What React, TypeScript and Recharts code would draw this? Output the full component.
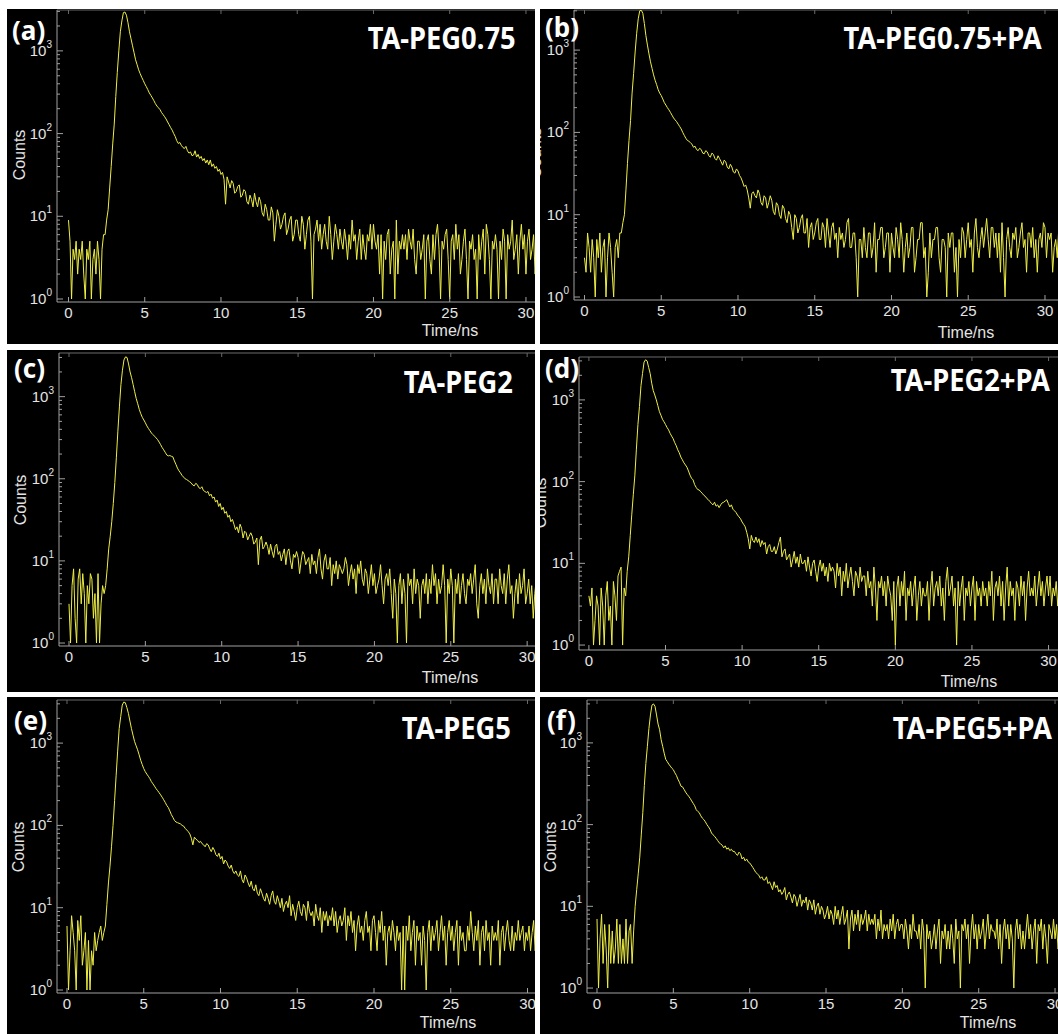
import { LineChart, Line, XAxis, YAxis, ReferenceLine } from "recharts";

const CHANNEL_NS = 0.1;

const timeTicks = [0, 5, 10, 15, 20, 25, 30];
const decadeTicks = [1, 10, 100, 1000];
const minorSteps = [2, 3, 4, 5, 6, 7, 8, 9];

const panelLetters = ["(a)", "(b)", "(c)", "(d)", "(e)", "(f)"];
const sampleNames = [
  "TA-PEG0.75",
  "TA-PEG0.75+PA",
  "TA-PEG2",
  "TA-PEG2+PA",
  "TA-PEG5",
  "TA-PEG5+PA",
];

// counts per channel, one row per ns (0.0 ... 31.0 ns)
const countsPeg075 = [
  9, 5, 1, 4, 3, 5, 2, 4, 3, 5,
  2, 1, 4, 3, 5, 1, 3, 4, 2, 5,
  3, 1, 4, 6, 6, 9, 12, 22, 40, 75,
  130, 280, 550, 1000, 1700, 2300, 2900, 2950, 2700, 2200,
  1700, 1400, 1150, 950, 780, 680, 590, 530, 480, 440,
  400, 370, 340, 310, 290, 270, 250, 230, 215, 205,
  195, 180, 170, 160, 150, 138, 128, 118, 110, 100,
  92, 82, 76, 78, 72, 68, 66, 70, 62, 58,
  60, 54, 55, 62, 52, 56, 50, 53, 47, 50,
  44, 48, 42, 48, 40, 43, 38, 40, 35, 37,
  32, 34, 28, 14, 30, 26, 22, 27, 25, 19,
  20, 23, 24, 17, 18, 21, 20, 15, 14, 18,
  16, 13, 19, 15, 13, 17, 15, 11, 10, 14,
  12, 9, 9, 13, 11, 5, 8, 12, 10, 7,
  8, 10, 11, 6, 7, 9, 10, 5, 6, 9,
  9, 6, 5, 10, 8, 4, 6, 9, 10, 5,
  1, 6, 7, 9, 5, 8, 4, 6, 8, 5,
  4, 10, 6, 3, 5, 8, 6, 4, 7, 5,
  4, 7, 5, 3, 6, 4, 9, 5, 6, 3,
  5, 7, 3, 6, 4, 3, 6, 5, 8, 4,
  8, 5, 4, 6, 2, 6, 1, 5, 3, 6,
  7, 2, 4, 5, 1, 9, 2, 5, 4, 6,
  4, 6, 3, 7, 5, 4, 7, 3, 2, 5,
  5, 3, 4, 6, 1, 5, 6, 3, 2, 6,
  3, 6, 8, 4, 1, 5, 4, 6, 7, 3,
  1, 5, 6, 3, 8, 4, 6, 2, 3, 5,
  7, 3, 1, 5, 4, 6, 3, 4, 1, 6,
  3, 5, 7, 2, 8, 6, 3, 1, 5, 4,
  6, 4, 1, 5, 3, 7, 5, 1, 6, 4,
  5, 9, 3, 4, 6, 2, 5, 8, 4, 6,
  2, 5, 7, 3, 4, 6, 2, 4, 5, 3,
  5,
];

const countsPeg075Pa = [
  3, 2, 6, 4, 2, 5, 3, 1, 5, 3,
  6, 2, 4, 5, 1, 3, 6, 4, 2, 1,
  4, 5, 3, 6, 6, 8, 10, 20, 42, 80,
  140, 300, 520, 950, 1600, 2400, 3000, 3050, 2800, 2100,
  1500, 1150, 900, 720, 600, 500, 430, 380, 330, 300,
  280, 255, 230, 215, 200, 188, 175, 162, 150, 142,
  135, 126, 118, 110, 100, 92, 85, 80, 78, 75,
  72, 66, 68, 62, 60, 64, 62, 56, 55, 60,
  58, 52, 50, 56, 54, 48, 46, 52, 48, 44,
  40, 46, 44, 38, 36, 41, 38, 33, 32, 36,
  34, 30, 28, 25, 22, 23, 20, 16, 12, 18,
  19, 17, 16, 20, 18, 14, 13, 17, 16, 12,
  14, 17, 15, 11, 10, 14, 13, 10, 9, 13,
  12, 9, 8, 11, 10, 7, 5, 10, 9, 6,
  7, 9, 10, 6, 6, 9, 4, 7, 8, 5,
  6, 8, 9, 5, 5, 8, 7, 4, 9, 6,
  4, 7, 8, 5, 6, 3, 7, 5, 6, 4,
  5, 8, 9, 4, 4, 6, 6, 3, 1, 5,
  5, 3, 7, 4, 3, 6, 6, 3, 4, 8,
  2, 5, 5, 7, 7, 3, 4, 6, 6, 2,
  6, 4, 3, 7, 5, 3, 8, 5, 2, 4,
  6, 3, 4, 7, 7, 2, 3, 5, 5, 8,
  8, 3, 4, 1, 2, 6, 3, 5, 5, 7,
  7, 3, 2, 5, 5, 4, 1, 6, 4, 6,
  6, 2, 4, 1, 5, 3, 7, 6, 3, 5,
  8, 4, 5, 2, 6, 9, 4, 3, 5, 7,
  4, 6, 9, 5, 3, 7, 7, 4, 6, 3,
  6, 2, 8, 3, 1, 5, 7, 4, 3, 6,
  5, 7, 3, 4, 6, 8, 4, 5, 2, 6,
  6, 4, 7, 3, 5, 2, 5, 6, 4, 8,
  7, 3, 6, 5, 6, 2, 4, 5, 3, 7,
  5,
];

const countsPeg2 = [
  3, 1, 5, 8, 2, 1, 6, 8, 3, 7,
  4, 1, 5, 3, 7, 6, 2, 4, 1, 7,
  1, 3, 5, 4, 5, 8, 14, 20, 30, 50,
  90, 180, 380, 750, 1400, 2100, 2800, 3050, 3000, 2500,
  2000, 1700, 1400, 1150, 950, 820, 700, 620, 560, 520,
  480, 440, 410, 385, 360, 345, 330, 315, 300, 280,
  260, 240, 225, 210, 195, 190, 192, 188, 185, 165,
  150, 135, 125, 118, 110, 105, 100, 98, 95, 92,
  89, 84, 82, 88, 85, 78, 76, 80, 72, 70,
  68, 70, 62, 65, 58, 60, 52, 55, 46, 50,
  42, 45, 38, 40, 34, 36, 30, 32, 28, 24,
  26, 22, 28, 25, 19, 23, 22, 18, 20, 22,
  20, 16, 17, 19, 9, 18, 20, 14, 15, 17,
  15, 12, 16, 13, 11, 15, 16, 12, 13, 10,
  12, 14, 9, 13, 14, 10, 8, 12, 11, 13,
  11, 7, 10, 13, 12, 9, 10, 11, 7, 12,
  9, 10, 7, 11, 14, 8, 6, 10, 12, 8,
  8, 11, 5, 9, 7, 10, 6, 9, 8, 7,
  8, 11, 9, 5, 7, 9, 6, 8, 4, 9,
  7, 10, 6, 5, 8, 7, 4, 6, 9, 5,
  7, 4, 5, 6, 9, 5, 3, 6, 7, 5,
  8, 4, 2, 6, 4, 1, 5, 7, 3, 6,
  4, 1, 7, 5, 6, 3, 8, 4, 6, 5,
  2, 5, 6, 4, 7, 3, 6, 4, 9, 5,
  7, 3, 6, 4, 5, 9, 5, 1, 6, 4,
  8, 5, 1, 6, 4, 7, 3, 5, 7, 4,
  3, 6, 5, 7, 4, 6, 9, 3, 2, 5,
  7, 4, 6, 3, 8, 5, 4, 7, 3, 6,
  6, 3, 8, 5, 4, 7, 3, 6, 9, 4,
  5, 2, 4, 6, 3, 7, 4, 5, 8, 3,
  4, 6, 3, 5, 2, 4, 6, 3, 4, 5,
  3,
];

const countsPeg2Pa = [
  4, 3, 5, 1, 2, 4, 3, 1, 5, 3,
  1, 4, 6, 2, 3, 1, 6, 4, 2, 7,
  8, 9, 1, 5, 4, 8, 12, 22, 40, 70,
  120, 250, 500, 830, 1500, 2100, 2900, 3100, 3000, 2500,
  2100, 1600, 1300, 1150, 1000, 850, 720, 650, 580, 540,
  500, 460, 430, 390, 360, 335, 300, 275, 245, 225,
  200, 185, 170, 160, 150, 135, 120, 110, 105, 92,
  85, 80, 79, 75, 72, 68, 66, 62, 60, 57,
  54, 52, 56, 50, 52, 48, 52, 55, 56, 58,
  60, 54, 49, 52, 46, 44, 42, 39, 37, 35,
  32, 30, 28, 24, 20, 15, 22, 19, 18, 21,
  18, 20, 16, 19, 17, 18, 13, 16, 17, 14,
  14, 16, 13, 15, 18, 21, 12, 14, 15, 11,
  12, 13, 9, 11, 14, 10, 12, 9, 13, 10,
  10, 11, 8, 12, 9, 7, 10, 11, 8, 6,
  9, 11, 8, 10, 7, 9, 6, 10, 8, 9,
  8, 5, 10, 7, 9, 4, 8, 6, 10, 5,
  7, 9, 6, 4, 8, 7, 5, 9, 6, 7,
  7, 4, 8, 5, 6, 3, 9, 5, 2, 6,
  5, 7, 4, 6, 3, 7, 5, 4, 2, 6,
  1, 5, 7, 3, 6, 4, 8, 2, 5, 4,
  6, 3, 5, 7, 2, 4, 6, 3, 5, 4,
  4, 6, 2, 5, 8, 3, 5, 6, 4, 7,
  3, 5, 2, 6, 9, 4, 5, 7, 3, 5,
  1, 6, 3, 5, 7, 2, 5, 4, 6, 3,
  5, 7, 2, 6, 4, 5, 3, 6, 4, 5,
  3, 6, 4, 8, 2, 5, 6, 4, 7, 3,
  6, 2, 5, 9, 3, 6, 4, 5, 2, 6,
  5, 3, 7, 4, 6, 2, 5, 8, 4, 5,
  4, 7, 3, 5, 8, 4, 6, 3, 5, 7,
  4, 7, 3, 5, 4, 6, 3, 5, 6, 4,
  4,
];

const countsPeg5 = [
  6, 1, 3, 8, 5, 3, 1, 7, 4, 8,
  2, 3, 5, 1, 4, 1, 3, 2, 5, 3,
  4, 5, 6, 4, 5, 6, 11, 20, 32, 55,
  100, 200, 400, 800, 1500, 2100, 2900, 3150, 3100, 2700,
  2300, 1850, 1500, 1250, 1050, 930, 830, 720, 620, 550,
  490, 450, 420, 395, 370, 340, 320, 300, 280, 265,
  250, 235, 220, 205, 190, 175, 165, 150, 135, 125,
  115, 110, 108, 106, 104, 100, 98, 92, 88, 84,
  79, 70, 58, 72, 68, 66, 62, 64, 60, 58,
  55, 60, 58, 52, 48, 54, 50, 44, 42, 46,
  39, 42, 34, 38, 36, 32, 30, 33, 28, 26,
  28, 25, 24, 28, 22, 20, 25, 23, 20, 18,
  21, 17, 16, 19, 15, 14, 17, 15, 13, 12,
  15, 13, 11, 14, 16, 12, 11, 14, 12, 10,
  13, 9, 11, 12, 10, 14, 8, 11, 9, 7,
  10, 12, 9, 8, 11, 10, 7, 12, 9, 8,
  9, 6, 11, 8, 7, 10, 5, 9, 7, 9,
  6, 8, 7, 10, 6, 9, 5, 7, 8, 6,
  7, 10, 4, 8, 6, 9, 5, 7, 3, 6,
  8, 5, 6, 4, 7, 9, 5, 6, 3, 7,
  8, 5, 3, 7, 5, 9, 4, 6, 2, 5,
  6, 4, 7, 5, 3, 6, 4, 5, 1, 6,
  1, 6, 4, 8, 3, 5, 7, 2, 6, 4,
  5, 2, 6, 4, 1, 5, 7, 3, 6, 4,
  5, 7, 3, 5, 8, 4, 6, 2, 5, 7,
  4, 6, 3, 5, 7, 2, 6, 4, 5, 3,
  3, 6, 4, 9, 5, 3, 6, 4, 7, 2,
  5, 6, 3, 7, 4, 5, 2, 6, 4, 5,
  4, 7, 2, 5, 6, 3, 5, 7, 4, 3,
  6, 3, 5, 4, 7, 4, 5, 6, 3, 5,
  4, 6, 3, 5, 7, 3, 5, 4, 6, 3,
  5,
];

const countsPeg5Pa = [
  7, 1, 4, 8, 2, 6, 3, 1, 6, 2,
  5, 2, 3, 7, 2, 6, 2, 4, 2, 7,
  2, 5, 6, 2, 5, 10, 16, 25, 40, 75,
  140, 300, 560, 910, 1500, 2200, 2900, 3000, 2800, 2200,
  1700, 1450, 1100, 910, 750, 630, 590, 550, 520, 490,
  470, 430, 400, 360, 330, 295, 290, 270, 250, 235,
  223, 210, 195, 182, 170, 152, 145, 140, 128, 120,
  115, 108, 100, 94, 88, 79, 75, 72, 68, 64,
  60, 58, 56, 52, 55, 50, 52, 48, 50, 47,
  47, 44, 42, 46, 44, 38, 40, 36, 38, 35,
  34, 32, 30, 28, 26, 25, 24, 22, 23, 21,
  21, 23, 19, 20, 18, 16, 20, 17, 18, 15,
  16, 14, 15, 17, 12, 14, 15, 13, 11, 14,
  13, 10, 12, 14, 10, 12, 11, 13, 9, 12,
  11, 9, 12, 8, 10, 11, 8, 10, 9, 7,
  8, 10, 7, 9, 8, 6, 10, 7, 9, 6,
  8, 10, 6, 7, 9, 3, 7, 9, 5, 8,
  6, 9, 5, 8, 6, 7, 9, 5, 8, 6,
  7, 6, 8, 4, 7, 5, 9, 4, 6, 5,
  6, 4, 7, 5, 8, 4, 6, 7, 5, 6,
  6, 4, 7, 5, 3, 6, 4, 8, 5, 5,
  4, 6, 3, 7, 5, 1, 6, 4, 5, 3,
  4, 6, 3, 5, 7, 2, 5, 4, 6, 3,
  5, 3, 6, 4, 2, 7, 4, 5, 1, 6,
  5, 7, 4, 6, 2, 5, 8, 4, 6, 3,
  6, 4, 5, 7, 3, 5, 8, 4, 6, 5,
  5, 4, 7, 3, 6, 2, 5, 7, 4, 6,
  3, 6, 4, 1, 5, 7, 4, 6, 3, 5,
  3, 5, 8, 4, 6, 3, 5, 7, 2, 6,
  5, 7, 3, 6, 4, 2, 6, 5, 4, 7,
  4, 6, 3, 5, 7, 4, 6, 3, 5, 4,
  6,
];

const countSeries = [
  countsPeg075,
  countsPeg075Pa,
  countsPeg2,
  countsPeg2Pa,
  countsPeg5,
  countsPeg5Pa,
];

const AXIS = "#a0a0a0";
const FRAME = "#6a6a6a";
const TEXT = "#e4e4e4";
const TRACE = "#eeee44";
const SANS = "'Liberation Sans', Arial, sans-serif";
const TITLE_FONT = "'Noto Sans', 'Open Sans', sans-serif";

type Layout = {
  left: number;
  top: number;
  width: number;
  height: number;
  axisX: number;
  plotTop: number;
  axisY: number;
  chartWidth: number;
  xDomain: [number, number];
  yDomain: [number, number];
  letterX: number;
  letterY: number;
  titleRight: number;
  titleY: number;
  countsX: number;
  countsY: number;
  timeX: number;
  timeY: number;
};

const layouts: Layout[] = [
  { left: 7, top: 9, width: 528, height: 335, axisX: 50, plotTop: 1, axisY: 293, chartWidth: 540,
    xDomain: [-0.754, 31.38], yDomain: [0.92, 3120], letterX: 5, letterY: 8, titleRight: 19, titleY: 14,
    countsX: 13, countsY: 146, timeX: 443, timeY: 322 },
  { left: 540, top: 9, width: 518, height: 335, axisX: 34, plotTop: 1, axisY: 291, chartWidth: 530,
    xDomain: [-0.684, 31.63], yDomain: [0.92, 3070], letterX: 5, letterY: 5, titleRight: 16, titleY: 14,
    countsX: -4, countsY: 144, timeX: 426, timeY: 324 },
  { left: 7, top: 350, width: 528, height: 342, axisX: 52, plotTop: 3, axisY: 296, chartWidth: 540,
    xDomain: [-0.655, 31.3], yDomain: [0.92, 3400], letterX: 7, letterY: 5, titleRight: 22, titleY: 17,
    countsX: 14, countsY: 150, timeX: 443, timeY: 328 },
  { left: 540, top: 350, width: 518, height: 342, axisX: 39, plotTop: 7, axisY: 300, chartWidth: 530,
    xDomain: [-0.646, 31.4], yDomain: [0.87, 3350], letterX: 5, letterY: 5, titleRight: 8, titleY: 15,
    countsX: 1, countsY: 153, timeX: 429, timeY: 332 },
  { left: 7, top: 697, width: 528, height: 337, axisX: 50, plotTop: 3, axisY: 296, chartWidth: 540,
    xDomain: [-0.651, 31.27], yDomain: [0.92, 3340], letterX: 7, letterY: 10, titleRight: 24, titleY: 16,
    countsX: 12, countsY: 150, timeX: 441, timeY: 326 },
  { left: 540, top: 697, width: 518, height: 337, axisX: 47, plotTop: 3, axisY: 296, chartWidth: 530,
    xDomain: [-0.655, 30.98], yDomain: [0.87, 3350], letterX: 7, letterY: 10, titleRight: 6, titleY: 16,
    countsX: 11, countsY: 150, timeX: 448, timeY: 326 },
];

function DecayPanel({ index }: { index: number }) {
  const lay = layouts[index];
  const data = countSeries[index].map((c, i) => ({
    t: Math.round(i * CHANNEL_NS * 100) / 100,
    counts: c,
  }));
  const yTicks = decadeTicks
    .flatMap((d) => [d, ...minorSteps.map((m) => m * d)])
    .filter((v) => v >= lay.yDomain[0] && v <= lay.yDomain[1]);

  const renderXTick = (props: any) => {
    const { x, payload } = props;
    return (
      <g>
        <line x1={x} x2={x} y1={lay.axisY} y2={lay.axisY - 5} stroke={AXIS} />
        <line x1={x} x2={x} y1={lay.plotTop} y2={lay.plotTop + 4} stroke={FRAME} />
        <text
          x={x}
          y={lay.axisY + 16}
          textAnchor="middle"
          fill={TEXT}
          fontFamily={SANS}
          fontSize={15}
        >
          {payload.value}
        </text>
      </g>
    );
  };

  const renderYTick = (props: any) => {
    const { y, payload } = props;
    const v = payload.value as number;
    const major = decadeTicks.includes(v);
    return (
      <g>
        <line x1={lay.axisX} x2={lay.axisX + (major ? 6 : 3)} y1={y} y2={y} stroke={AXIS} />
        {major && (
          <text
            x={lay.axisX - 5}
            y={y + 5}
            textAnchor="end"
            fill={TEXT}
            fontFamily={SANS}
            fontSize={15}
          >
            10
            <tspan dy={-8} fontSize={10}>
              {Math.round(Math.log10(v))}
            </tspan>
          </text>
        )}
      </g>
    );
  };

  return (
    <div
      style={{
        position: "absolute",
        left: lay.left,
        top: lay.top,
        width: lay.width,
        height: lay.height,
        background: "#000",
        overflow: "hidden",
      }}
    >
      <LineChart
        width={lay.chartWidth}
        height={lay.height}
        data={data}
        margin={{ top: lay.plotTop, right: 0, bottom: 0, left: 0 }}
      >
        <XAxis
          dataKey="t"
          type="number"
          domain={lay.xDomain}
          allowDataOverflow
          ticks={timeTicks}
          interval={0}
          tickLine={false}
          axisLine={{ stroke: AXIS }}
          height={lay.height - lay.axisY}
          tick={renderXTick}
        />
        <YAxis
          type="number"
          scale="log"
          domain={lay.yDomain}
          allowDataOverflow
          ticks={yTicks}
          interval={0}
          tickLine={false}
          axisLine={{ stroke: AXIS }}
          width={lay.axisX}
          tick={renderYTick}
        />
        <ReferenceLine y={lay.yDomain[1]} stroke={FRAME} />
        <Line
          type="linear"
          dataKey="counts"
          stroke={TRACE}
          strokeWidth={1}
          dot={false}
          activeDot={false}
          isAnimationActive={false}
        />
      </LineChart>

      <div
        style={{
          position: "absolute",
          left: lay.letterX,
          top: lay.letterY,
          fontFamily: TITLE_FONT,
          fontWeight: 700,
          fontSize: 26,
          lineHeight: 1,
          color: "#fff",
        }}
      >
        {panelLetters[index]}
      </div>
      <div
        style={{
          position: "absolute",
          right: lay.titleRight,
          top: lay.titleY,
          fontFamily: TITLE_FONT,
          fontWeight: 700,
          fontSize: 30,
          lineHeight: 1,
          color: "#fff",
          whiteSpace: "nowrap",
          transform: "scaleX(0.91)",
          transformOrigin: "right center",
        }}
      >
        {sampleNames[index]}
      </div>
      <div
        style={{
          position: "absolute",
          left: lay.countsX,
          top: lay.countsY,
          transform: "translate(-50%, -50%) rotate(-90deg)",
          fontFamily: SANS,
          fontSize: 16,
          lineHeight: 1,
          color: TEXT,
          whiteSpace: "nowrap",
        }}
      >
        Counts
      </div>
      <div
        style={{
          position: "absolute",
          left: lay.timeX,
          top: lay.timeY,
          transform: "translate(-50%, -50%)",
          fontFamily: SANS,
          fontSize: 16,
          lineHeight: 1,
          color: TEXT,
          whiteSpace: "nowrap",
        }}
      >
        Time/ns
      </div>
    </div>
  );
}

export default function App() {
  return (
    <div
      style={{
        position: "absolute",
        left: 0,
        top: 0,
        width: 1058,
        height: 1034,
        background: "#fff",
        overflow: "hidden",
      }}
    >
      {sampleNames.map((_, i) => (
        <DecayPanel key={i} index={i} />
      ))}
    </div>
  );
}
